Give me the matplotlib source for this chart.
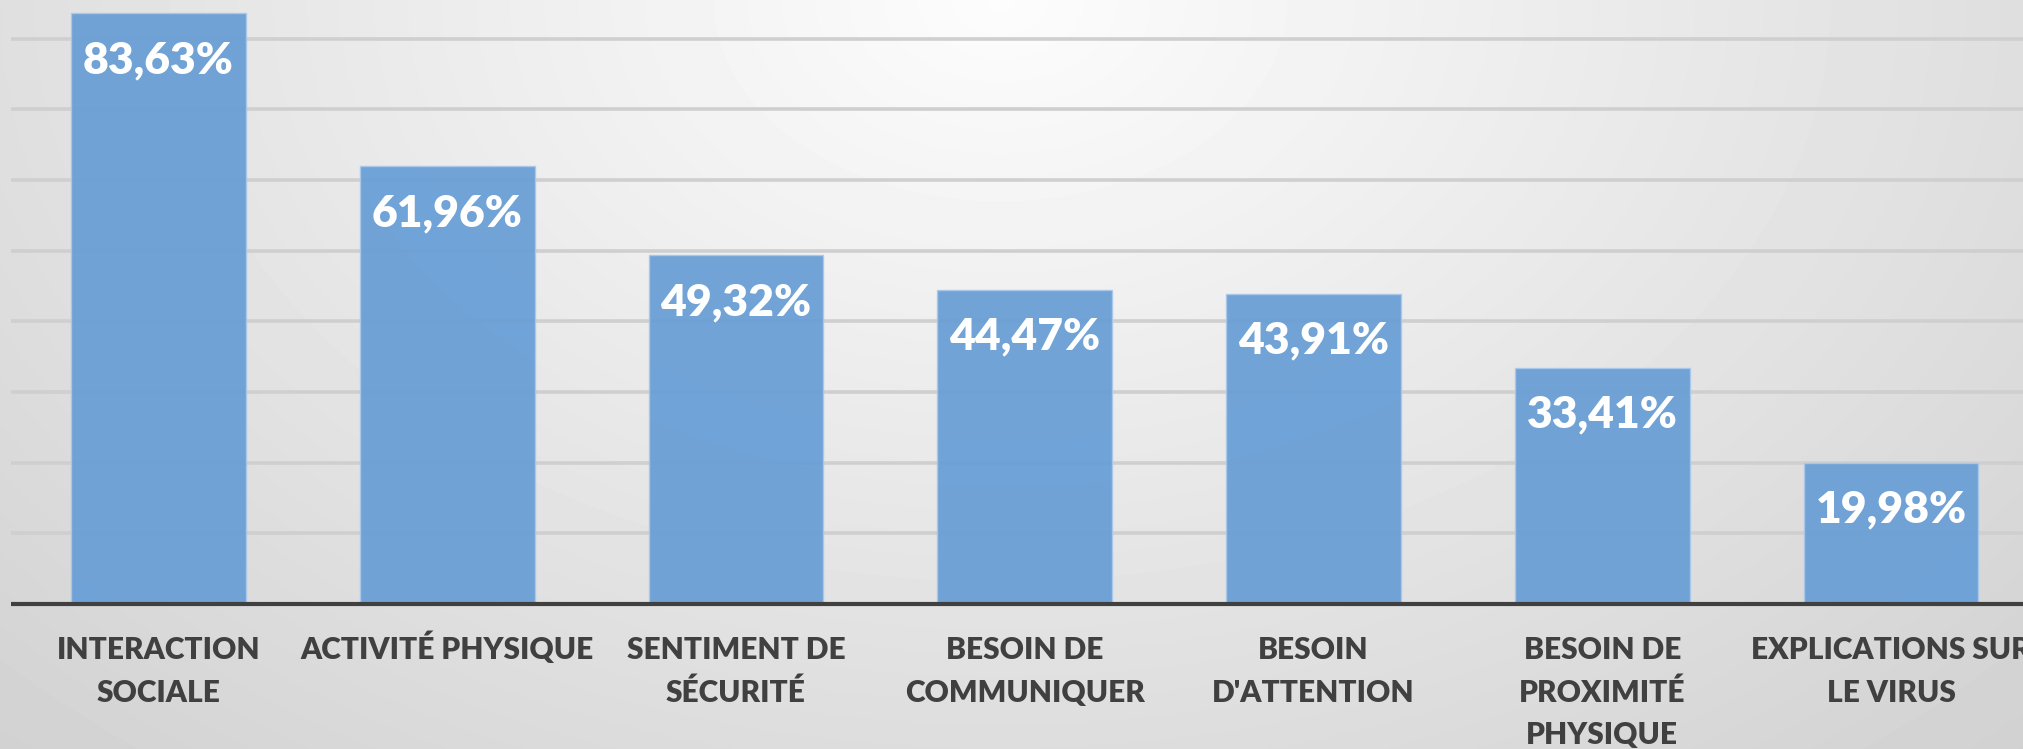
import numpy as np
import matplotlib.pyplot as plt

categories = ["INTERACTION\nSOCIALE", "ACTIVITÉ PHYSIQUE", "SENTIMENT DE\nSÉCURITÉ",
              "BESOIN DE\nCOMMUNIQUER", "BESOIN\nD'ATTENTION", "BESOIN DE\nPROXIMITÉ\nPHYSIQUE",
              "EXPLICATIONS SUR\nLE VIRUS"]
values = [83.63, 61.96, 49.32, 44.47, 43.91, 33.41, 19.98]
grid_values = [10, 20, 30, 40, 50, 60, 70, 80]

W, H, DPI = 2023, 749, 100
PX = 72.0 / DPI  # points per pixel

plt.rcParams['font.family'] = ['Lato', 'DejaVu Sans']

fig = plt.figure(figsize=(W / DPI, H / DPI), dpi=DPI)

# radial grey background, light near top centre
bg = fig.add_axes([0, 0, 1, 1], zorder=0)
yy, xx = np.mgrid[0:H, 0:W]
d = np.sqrt(((xx - 1000) / 1000.0) ** 2 + (yy / 700.0) ** 2)
shade = np.clip(0.99 - 0.115 * d, 0, 1)
bg.imshow(shade, cmap='gray', vmin=0, vmax=1, aspect='auto', interpolation='bilinear')
bg.axis('off')

ax = fig.add_axes([0, 0, 1, 1], zorder=1)
ax.patch.set_alpha(0)

# pixel geometry of the reference
x0_px, step_px = 158.5, 288.75
base_px, unit_px = 604, 7.067
ax.set_xlim((0 - x0_px) / step_px, (W - x0_px) / step_px)
ax.set_ylim(-(H - base_px) / unit_px, base_px / unit_px)

x = np.arange(len(values))
xmin = -0.51
xmax = ax.get_xlim()[1]
for g in grid_values:
    ax.plot([xmin, xmax], [g, g], color='#cfcfcf', lw=2.6, zorder=1, solid_capstyle='butt')
ax.plot([xmin, xmax], [0, 0], color='#404040', lw=3, zorder=4, solid_capstyle='butt')

ax.bar(x, values, width=0.606, color='#6a9fd6', alpha=0.95, edgecolor='#a9c8ea',
       linewidth=1, zorder=2)

for xi, v in zip(x, values):
    ax.annotate(f"{v:.2f}".replace('.', ',') + '%', (xi, v), xytext=(0, -60 * PX),
                textcoords='offset points', ha='center', va='baseline',
                color='white', fontsize=32, fontweight='heavy', zorder=5)

for xi, lab in zip(x, categories):
    for k, line in enumerate(lab.split('\n')):
        ax.annotate(line, (xi, 0), xytext=(0, -(55 + 42.5 * k) * PX),
                    textcoords='offset points', ha='center', va='baseline',
                    color='#404040', fontsize=21.5, fontweight='heavy', zorder=5)

ax.axis('off')
fig.savefig('out.png', dpi=DPI)
